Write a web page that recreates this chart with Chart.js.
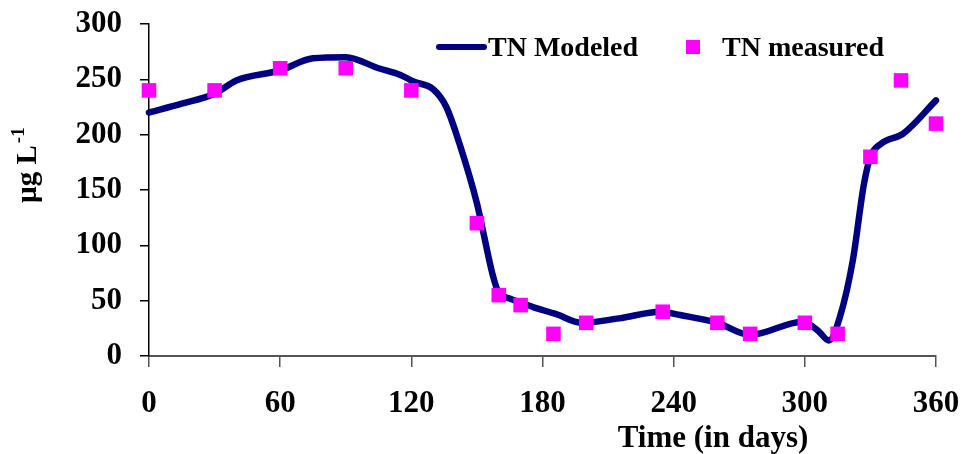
<!DOCTYPE html>
<html>
<head>
<meta charset="utf-8">
<script src="https://cdn.jsdelivr.net/npm/chart.js@4.4.0/dist/chart.umd.min.js"></script>
<style>
  html, body { margin: 0; padding: 0; background: #fff; }
  #wrap { width: 963px; height: 454px; }
</style>
</head>
<body>
<div id="wrap"><canvas id="tnChart" width="963" height="454"></canvas></div>
<script>
// ---- data ----
const modelDays = [0, 15, 30, 40, 60, 75, 90, 105, 115, 121, 130, 136, 142, 150, 153, 157, 160, 165, 176, 186, 198, 215, 234, 243, 260, 275, 299, 306, 311, 316, 322, 327, 330, 335, 345, 360];
const modelTN   = [220, 228, 237, 249, 258, 269, 270, 260, 254, 248, 241, 225, 192, 138, 111, 75, 57, 52, 44, 38, 30, 34, 40, 37, 30, 19, 31, 23, 14, 35, 87, 155, 180, 192, 201, 231];

const measDays = [0, 30, 60, 90, 120, 150, 160, 170, 185, 200, 235, 260, 275, 300, 315, 330, 344, 360];
const measTN   = [240, 240, 260, 260, 240, 120, 55, 46, 20, 30, 40, 30, 20, 30, 20, 180, 249, 210];

const xTicks = [0, 60, 120, 180, 240, 300, 360];
const yTicks = [0, 50, 100, 150, 200, 250, 300];

const xTitle = "Time (in days)";
const yTitle = "µg L";
const yTitleSup = "-1";

const NAVY = "#000080";
const MAGENTA = "#FF00FF";
const SERIF = '"Liberation Serif", "Times New Roman", serif';

// ---- titles + legend drawn at fixed spots ----
const extrasPlugin = {
  id: "extras",
  afterDraw(chart) {
    const ctx = chart.ctx;
    ctx.save();
    ctx.fillStyle = "#000";

    // x title (sits right of centre in the original)
    ctx.font = "bold 31px " + SERIF;
    ctx.textAlign = "center";
    ctx.textBaseline = "alphabetic";
    ctx.fillText(xTitle, 713, 447);

    // y title, rotated, with superscript
    ctx.save();
    ctx.translate(36, 203);
    ctx.rotate(-Math.PI / 2);
    ctx.textAlign = "left";
    ctx.font = "bold 29px " + SERIF;
    ctx.fillText(yTitle, 0, 0);
    const w = ctx.measureText(yTitle).width;
    ctx.font = "bold 19px " + SERIF;
    ctx.fillText(yTitleSup, w + 2, -12);
    ctx.restore();

    // legend
    const ds = chart.data.datasets;
    const model = ds.find(d => d.showLine);
    const meas = ds.find(d => !d.showLine);
    ctx.strokeStyle = model.borderColor;
    ctx.lineWidth = 6;
    ctx.lineCap = "round";
    ctx.beginPath();
    ctx.moveTo(439, 47);
    ctx.lineTo(484, 47);
    ctx.stroke();
    ctx.font = "bold 28px " + SERIF;
    ctx.textAlign = "left";
    ctx.fillStyle = "#000";
    ctx.fillText(model.label, 488, 56);
    ctx.fillStyle = meas.backgroundColor;
    ctx.fillRect(686, 40, 14, 14);
    ctx.fillStyle = "#000";
    ctx.fillText(meas.label, 722, 56);

    ctx.restore();
  }
};

new Chart(document.getElementById("tnChart"), {
  type: "scatter",
  data: {
    datasets: [
      {
        label: "TN Modeled",
        data: modelDays.map((d, i) => ({ x: d, y: modelTN[i] })),
        showLine: true,
        borderColor: NAVY,
        borderWidth: 6.5,
        pointRadius: 0,
        cubicInterpolationMode: "monotone",
        borderCapStyle: "round",
        clip: false,
        order: 2
      },
      {
        label: "TN measured",
        data: measDays.map((d, i) => ({ x: d, y: measTN[i] })),
        showLine: false,
        pointStyle: "rect",
        pointRadius: 10.3,
        backgroundColor: MAGENTA,
        borderWidth: 0,
        clip: false,
        order: 1
      }
    ]
  },
  options: {
    responsive: false,
    animation: false,
    layout: { padding: { top: 24, right: 27, left: 0, bottom: 0 } },
    plugins: { legend: { display: false }, tooltip: { enabled: false } },
    scales: {
      x: {
        type: "linear",
        min: 0,
        max: 360,
        afterBuildTicks: s => { s.ticks = xTicks.map(v => ({ value: v })); },
        afterFit: s => { s.height = 98; s.paddingLeft = 0; s.paddingRight = 0; },
        grid: { drawOnChartArea: false, drawTicks: true, tickLength: 11, color: "#555", lineWidth: 1.5 },
        border: { color: "#555", width: 2 },
        ticks: { color: "#000", padding: 18, maxRotation: 0, font: { family: SERIF, size: 31, weight: "bold" } }
      },
      y: {
        min: 0,
        max: 300,
        afterBuildTicks: s => { s.ticks = yTicks.map(v => ({ value: v })); },
        afterFit: s => { s.width = 149; s.paddingTop = 0; s.paddingBottom = 0; },
        grid: { drawOnChartArea: false, drawTicks: true, tickLength: 9, color: "#000", lineWidth: 1.5 },
        border: { color: "#000", width: 1.5 },
        ticks: { color: "#000", padding: 18, font: { family: SERIF, size: 31, weight: "bold" } }
      }
    }
  },
  plugins: [extrasPlugin]
});
</script>
</body>
</html>
